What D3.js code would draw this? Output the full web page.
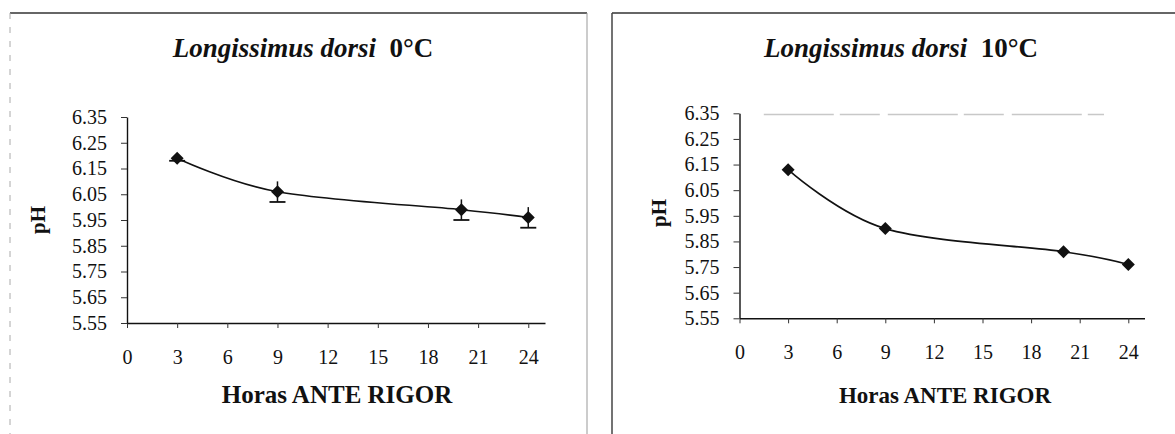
<!DOCTYPE html>
<html>
<head>
<meta charset="utf-8">
<script src="https://cdn.jsdelivr.net/npm/d3@7"></script>
<style>
  html, body { margin: 0; padding: 0; background: #fff; }
  svg { display: block; }
  text { font-family: "Liberation Serif", "Times New Roman", serif; fill: #111; }
</style>
</head>
<body>
<svg id="chart" width="1175" height="434"></svg>
<script>
// ---- data ----
const hours = [3, 9, 20, 24];
const ph0 = [6.19, 6.06, 5.99, 5.96];
const err0 = [0.01, 0.04, 0.04, 0.04];
const ph10 = [6.13, 5.90, 5.81, 5.76];
const err10 = [0, 0, 0, 0];
const yTicks = [5.55, 5.65, 5.75, 5.85, 5.95, 6.05, 6.15, 6.25, 6.35];
const xTicks = [0, 3, 6, 9, 12, 15, 18, 21, 24];
const titleItalic = "Longissimus dorsi";
const titleTemps = ["0°C", "10°C"];
const xLabel = "Horas ANTE RIGOR";
const yLabel = "pH";

const SERIF = '"Liberation Serif", "Times New Roman", serif';
const svg = d3.select("#chart");

// panel frames
svg.append("line").attr("x1", 10).attr("x2", 587).attr("y1", 13).attr("y2", 13)
  .attr("stroke", "#333").attr("stroke-width", 1.5);
svg.append("line").attr("x1", 10).attr("x2", 10).attr("y1", 13).attr("y2", 434)
  .attr("stroke", "#aaa").attr("stroke-width", 1).attr("stroke-dasharray", "6,8");
svg.append("line").attr("x1", 587).attr("x2", 587).attr("y1", 13).attr("y2", 434)
  .attr("stroke", "#999").attr("stroke-width", 1);
svg.append("line").attr("x1", 612).attr("x2", 1175).attr("y1", 13).attr("y2", 13)
  .attr("stroke", "#333").attr("stroke-width", 1.5);
svg.append("line").attr("x1", 612).attr("x2", 612).attr("y1", 13).attr("y2", 434)
  .attr("stroke", "#444").attr("stroke-width", 1.5);

const panels = [
  { values: ph0, errs: err0, temp: titleTemps[0],
    xr: [127, 545], yr: [323, 117],
    titleX: 303, xLabelX: 337, xLabelSize: 25, yLabelX: 38, yLabelY: 220, topLine: false },
  { values: ph10, errs: err10, temp: titleTemps[1],
    xr: [739.5, 1144.5], yr: [318.3, 113.3],
    titleX: 901, xLabelX: 945, xLabelSize: 23, yLabelX: 659, yLabelY: 213, topLine: true }
];

const diamond = "M0,-6.5L6.5,0L0,6.5L-6.5,0Z";

panels.forEach(p => {
  const x = d3.scaleLinear().domain([0, 25]).range(p.xr);
  const y = d3.scaleLinear().domain([5.55, 6.35]).range(p.yr);
  const g = svg.append("g");

  if (p.topLine) {
    g.append("line").attr("x1", x(1.5)).attr("x2", x(22.5)).attr("y1", y(6.345)).attr("y2", y(6.345))
      .attr("stroke", "#c8c8c8").attr("stroke-width", 1.5).attr("stroke-dasharray", "70,6,40,8");
  }

  // x axis
  const xa = g.append("g").attr("transform", `translate(0,${p.yr[0]})`)
    .call(d3.axisBottom(x).tickValues(xTicks).tickSize(5).tickSizeOuter(0).tickPadding(22));
  xa.attr("font-family", null);
  xa.select(".domain").attr("stroke", "#111").attr("stroke-width", 1.4);
  xa.selectAll(".tick line").attr("stroke", "#333");
  xa.selectAll(".tick text").style("font-family", SERIF)
    .style("font-size", "20px").attr("fill", "#111");

  // y axis
  const ya = g.append("g").attr("transform", `translate(${p.xr[0]},0)`)
    .call(d3.axisLeft(y).tickValues(yTicks).tickFormat(d3.format(".2f")).tickSize(6).tickSizeOuter(0).tickPadding(14));
  ya.attr("font-family", null);
  ya.select(".domain").attr("stroke", "#111").attr("stroke-width", 1.4);
  ya.selectAll(".tick line").attr("stroke", "#333");
  ya.selectAll(".tick text").style("font-family", SERIF)
    .style("font-size", "20px").attr("fill", "#111");

  const pts = hours.map((h, i) => ({ h, v: p.values[i], e: p.errs[i] }));

  // error bars
  pts.filter(d => d.e > 0).forEach(d => {
    g.append("line").attr("x1", x(d.h)).attr("x2", x(d.h))
      .attr("y1", y(d.v + d.e)).attr("y2", y(d.v - d.e))
      .attr("stroke", "#111").attr("stroke-width", 1.5);
    g.append("line").attr("x1", x(d.h) - 8).attr("x2", x(d.h) + 8)
      .attr("y1", y(d.v - d.e)).attr("y2", y(d.v - d.e))
      .attr("stroke", "#111").attr("stroke-width", 1.8);
  });

  // smoothed line
  const line = d3.line().x(d => x(d.h)).y(d => y(d.v)).curve(d3.curveCardinal.tension(0));
  g.append("path").datum(pts).attr("d", line)
    .attr("fill", "none").attr("stroke", "#111").attr("stroke-width", 1.6);

  // markers
  g.selectAll(".m").data(pts).enter().append("path")
    .attr("d", diamond)
    .attr("transform", d => `translate(${x(d.h)},${y(d.v)})`)
    .attr("fill", "#111");

  // title
  const t = svg.append("text").attr("x", p.titleX).attr("y", 57)
    .attr("text-anchor", "middle").style("font-family", SERIF)
    .style("font-size", "27px").style("font-weight", "bold");
  t.append("tspan").style("font-style", "italic").text(titleItalic);
  t.append("tspan").text("\u00A0\u00A0" + p.temp);

  // x label
  svg.append("text").attr("x", p.xLabelX).attr("y", 403).attr("text-anchor", "middle")
    .style("font-family", SERIF)
    .style("font-size", p.xLabelSize + "px").style("font-weight", "bold").text(xLabel);

  // y label
  svg.append("text").attr("transform", `translate(${p.yLabelX + 7},${p.yLabelY}) rotate(-90)`)
    .attr("text-anchor", "middle").style("font-family", SERIF)
    .style("font-size", "21px").style("font-weight", "bold").text(yLabel);
});
</script>
</body>
</html>
